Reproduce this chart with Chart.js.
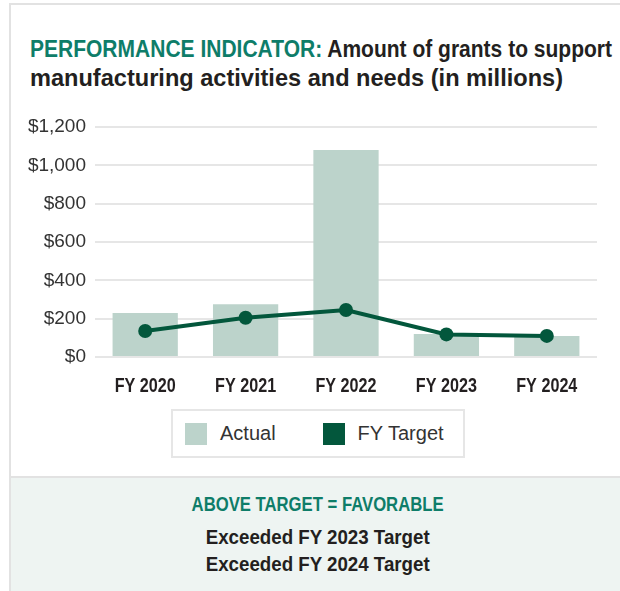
<!DOCTYPE html>
<html>
<head>
<meta charset="utf-8">
<script src="https://cdn.jsdelivr.net/npm/chart.js@4"></script>
<style>
  html, body { margin: 0; padding: 0; background: #fff; }
  body { width: 620px; height: 591px; position: relative; overflow: hidden;
         font-family: "Liberation Sans", Arial, sans-serif; }
  .card { position: absolute; left: 9px; top: 3px; width: 640px; height: 700px;
          border-left: 2px solid #e2e2e2; border-top: 2px solid #e2e2e2; }
  .title { position: absolute; left: 30px; top: 34px; font-size: 24px; font-weight: bold;
           line-height: 29px; color: #231f20; }
  .title .fit { display: inline-block; white-space: nowrap; transform-origin: left center; }
  .title .lead { color: #0e7d69; }
  #wrap { position: absolute; left: 0; top: 100px; width: 620px; height: 300px; }
  .legend { position: absolute; left: 171px; top: 409px; height: 45px; width: 278px;
            border: 2px solid #e6e6e6; display: flex; align-items: center;
            padding-left: 12px; font-size: 20px; color: #333; white-space: nowrap; }
  .legend .item { display: flex; align-items: center; margin-right: 47px; white-space: nowrap; }
  .legend span.sw { display: inline-block; width: 22px; height: 22px; margin-right: 13px; }
  .footer { position: absolute; left: 11px; top: 476px; width: 620px; height: 120px;
            background: #eef4f2; border-top: 2px solid #e2e2e2; }
  .footer div { position: absolute; left: 0; width: 614px; text-align: center; font-weight: bold;
                font-size: 21px; }
  .footer .fit { display: inline-block; white-space: nowrap; transform-origin: center center; }
  .f1 { top: 14px; color: #0e7d69; }
  .f2 { top: 47px; color: #231f20; }
  .f3 { top: 74px; color: #231f20; }
</style>
</head>
<body>
<div class="card"></div>
<div class="title">
  <span class="fit" data-w="582"><span class="lead">PERFORMANCE INDICATOR:</span> Amount of grants to support</span><br>
  <span class="fit" data-w="533">manufacturing activities and needs (in millions)</span>
</div>
<div id="wrap"><canvas id="chart"></canvas></div>
<div class="legend" id="legend"></div>
<div class="footer">
  <div class="f1"><span class="fit" data-w="252">ABOVE TARGET = FAVORABLE</span></div>
  <div class="f2"><span class="fit" data-w="224">Exceeded FY 2023 Target</span></div>
  <div class="f3"><span class="fit" data-w="224">Exceeded FY 2024 Target</span></div>
</div>
<script>
// Chart data
const years = ["FY 2020", "FY 2021", "FY 2022", "FY 2023", "FY 2024"];
const actual = [230, 275, 1080, 120, 110];
const target = [136, 205, 245, 118, 110];
const yTicks = [0, 200, 400, 600, 800, 1000, 1200];

const actualColor = "#bcd3cb";
const targetColor = "#03573c";
const font = "'Liberation Sans', Arial, sans-serif";

// squeeze the html text to the condensed widths of the original
document.querySelectorAll(".fit").forEach((el) => {
  const w = el.getBoundingClientRect().width;
  el.style.transform = `scaleX(${el.dataset.w / w})`;
});

// draws the x labels in a narrowed bold face (no condensed font installed)
const condensedXLabels = {
  id: "condensedXLabels",
  afterDraw(chart) {
    const ctx = chart.ctx;
    const xs = chart.scales.x;
    ctx.save();
    ctx.font = `bold 21px ${font}`;
    ctx.fillStyle = "#231f20";
    ctx.textAlign = "center";
    ctx.textBaseline = "alphabetic";
    chart.data.labels.forEach((label, i) => {
      ctx.save();
      ctx.translate(xs.getPixelForTick(i), chart.chartArea.bottom + 35);
      ctx.scale(0.77, 1);
      ctx.fillText(label, 0, 0);
      ctx.restore();
    });
    ctx.restore();
  },
};

const canvas = document.getElementById("chart");

new Chart(canvas, {
  type: "bar",
  data: {
    labels: years,
    datasets: [
      {
        type: "line",
        label: "FY Target",
        data: target,
        borderColor: targetColor,
        backgroundColor: targetColor,
        borderWidth: 4,
        pointRadius: 7,
        pointHoverRadius: 7,
        pointBackgroundColor: targetColor,
        pointBorderWidth: 0,
        tension: 0,
        order: 0,
      },
      {
        label: "Actual",
        data: actual,
        backgroundColor: actualColor,
        borderWidth: 0,
        barPercentage: 0.65,
        categoryPercentage: 1,
        order: 1,
      },
    ],
  },
  options: {
    responsive: true,
    maintainAspectRatio: false,
    animation: false,
    layout: { padding: { top: 27, right: 23, left: 0, bottom: 0 } },
    scales: {
      x: {
        grid: { display: false, drawTicks: false },
        border: { display: false },
        ticks: { display: false },
        afterFit: (scale) => { scale.height = 43; },
      },
      y: {
        min: 0,
        max: 1200,
        afterBuildTicks: (scale) => { scale.ticks = yTicks.map((v) => ({ value: v })); },
        grid: { color: "#e6e6e6", lineWidth: 2, drawTicks: false },
        border: { display: false },
        ticks: {
          padding: 9,
          color: "#333",
          font: { family: font, size: 19 },
          callback: (v) => "$" + v.toLocaleString("en-US"),
        },
        afterFit: (scale) => { scale.width = 95; },
      },
    },
    plugins: {
      legend: { display: false },
      tooltip: { enabled: false },
    },
  },
  plugins: [condensedXLabels],
});

// HTML legend built from the series names
const legend = document.getElementById("legend");
[["Actual", actualColor], ["FY Target", targetColor]].forEach(([name, color]) => {
  const item = document.createElement("div");
  item.className = "item";
  item.innerHTML = `<span class="sw" style="background:${color}"></span>${name}`;
  legend.appendChild(item);
});
</script>
</body>
</html>
